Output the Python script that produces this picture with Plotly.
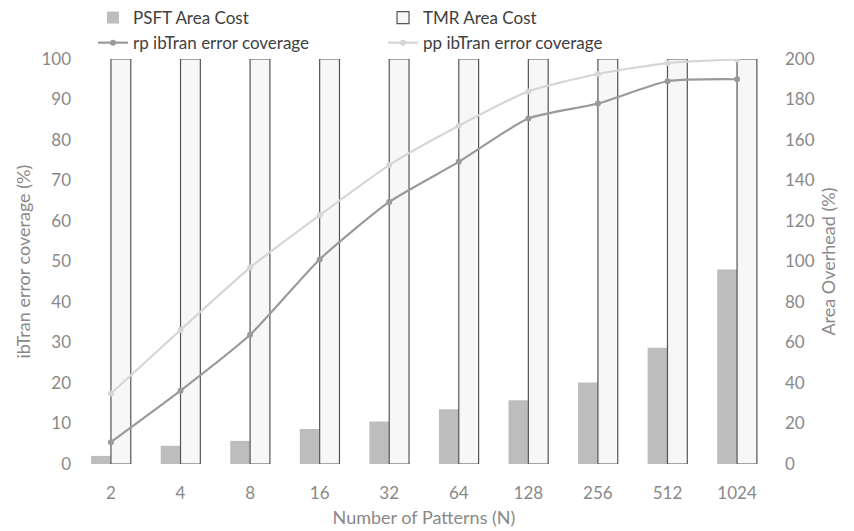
import plotly.graph_objects as go

categories = ["2", "4", "8", "16", "32", "64", "128", "256", "512", "1024"]
psft_area = [4, 9, 11.4, 17.3, 21, 27, 31.5, 40.3, 57.4, 96]
tmr_area = [200] * 10
rp_cov = [5.4, 18.1, 31.9, 50.5, 64.7, 74.6, 85.3, 89.0, 94.5, 95.0]
pp_cov = [17.4, 33.1, 48.5, 61.4, 73.8, 83.5, 92.0, 96.3, 99.0, 99.9]

FONT = "Lato"
GRAY = "#898989"

fig = go.Figure()
fig.add_trace(go.Bar(x=categories, y=psft_area, name="PSFT Area Cost",
                     marker=dict(color="#bcbdbc", line=dict(width=0)), yaxis="y"))
fig.add_trace(go.Bar(x=categories, y=tmr_area, name="TMR Area Cost",
                     marker=dict(color="#f7f7f7", line=dict(color="#555555", width=1.2)), yaxis="y"))
fig.add_trace(go.Scatter(x=categories, y=rp_cov, name="rp ibTran error coverage",
                         mode="lines+markers", line=dict(color="#9a9a9a", width=2.2, shape="spline", smoothing=0.6),
                         marker=dict(size=6, color="#9a9a9a"), yaxis="y2"))
fig.add_trace(go.Scatter(x=categories, y=pp_cov, name="pp ibTran error coverage",
                         mode="lines+markers", line=dict(color="#d6d6d6", width=2.2, shape="spline", smoothing=0.6),
                         marker=dict(size=6, color="#d6d6d6"), yaxis="y2"))

fig.update_layout(
    width=846, height=523,
    margin=dict(l=64, r=78, t=51, b=67, autoexpand=False),
    paper_bgcolor="white", plot_bgcolor="white",
    font=dict(family=FONT, size=17, color=GRAY),
    barmode="group", bargap=0.43, bargroupgap=0,
    showlegend=True,
    legend=dict(orientation="h", x=0.1005, xref="container", xanchor="left",
                y=1.1457, yanchor="top", yref="paper", entrywidth=245, itemwidth=30,
                font=dict(family=FONT, size=17, color="#404040"),
                bgcolor="rgba(0,0,0,0)", tracegroupgap=0),
    xaxis=dict(type="category", showgrid=False, showline=False, ticks="",
               tickfont=dict(size=17, color=GRAY), automargin=False, ticklabelstandoff=17,
               title=dict(text="Number of Patterns (N)", font=dict(size=18, color=GRAY), standoff=9)),
    yaxis=dict(side="right", range=[0, 200], dtick=20, showgrid=False, showline=False, zeroline=False,
               ticks="", tickfont=dict(size=17, color=GRAY), ticklabelstandoff=8, automargin=False,
               title=dict(text="Area Overhead (%)", font=dict(size=18, color=GRAY), standoff=8)),
    yaxis2=dict(side="left", overlaying="y", range=[0, 100], dtick=10, showgrid=False, showline=False,
                zeroline=False, ticks="", tickfont=dict(size=17, color=GRAY), automargin=False),
    annotations=[dict(text="ibTran error coverage (%)", textangle=-90, xref="paper", yref="paper",
                      x=0, y=0.5, xanchor="center", yanchor="middle", xshift=-50, showarrow=False,
                      font=dict(family=FONT, size=18, color=GRAY))],
)

fig.write_html("out.html")
